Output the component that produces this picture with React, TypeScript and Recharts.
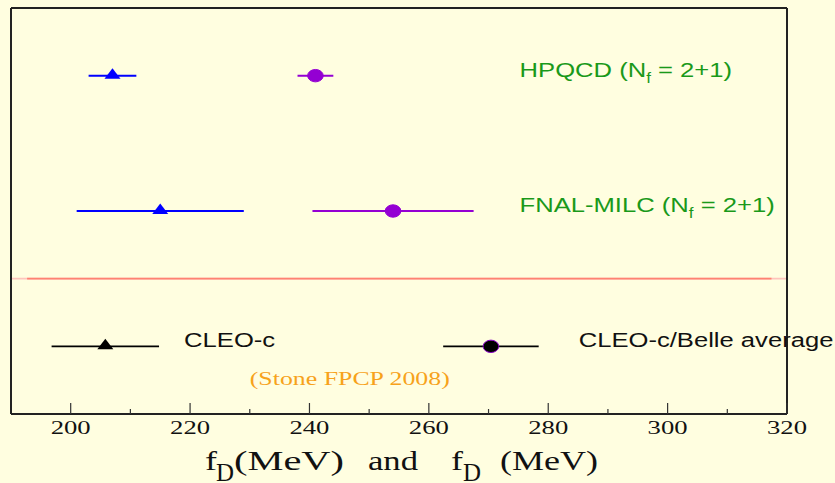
import { ComposedChart, ErrorBar, ReferenceDot, ReferenceLine, Scatter, XAxis, YAxis } from "recharts";

const xTicks = [200, 210, 220, 230, 240, 250, 260, 270, 280, 290, 300, 310, 320];

// rows: HPQCD = 5, FNAL-MILC = 3, experiment = 1
const fdLattice = [
  { x: 207, y: 5, err: 4 },
  { x: 215, y: 3, err: 14 }
];
const fdsLattice = [
  { x: 241, y: 5, err: 3 },
  { x: 254, y: 3, err: 13.5 }
];
const fdCleo = [{ x: 205.8, y: 1, err: 9 }];
const fdsAverage = [{ x: 270.4, y: 1, err: 8 }];

const dividerY = 2;
const dividerFrom = 192.7;
const dividerTo = 317.4;

const green = "#1a991a";
const rowLabels = [
  { key: "hpqcd", x: 275.2, y: 5, text: "HPQCD (N", sub: "f", rest: " = 2+1)", color: green },
  { key: "fnal", x: 275.2, y: 3, text: "FNAL-MILC (N", sub: "f", rest: " = 2+1)", color: green },
  { key: "cleo", x: 219, y: 1, text: "CLEO-c", sub: "", rest: "", color: "#111111" },
  { key: "avg", x: 285.1, y: 1, text: "CLEO-c/Belle average", sub: "", rest: "", color: "#111111" }
];
const sourceNote = { x: 230, y: 0.43, text: "(Stone FPCP 2008)" };

const frame = "#222222";

function Triangle(props: any) {
  const { cx, cy, fill } = props;
  return <polygon points={`${cx},${cy - 7.5} ${cx - 8},${cy + 3} ${cx + 8},${cy + 3}`} fill={fill} />;
}

function Dot(props: any) {
  const { cx, cy, fill, stroke } = props;
  return <ellipse cx={cx} cy={cy} rx={7.8} ry={6.2} fill={fill} stroke={stroke} strokeWidth={1} />;
}

function BottomTick(props: any) {
  const { x, y, payload } = props;
  const major = payload.value % 20 === 0;
  return (
    <g>
      <line x1={x} x2={x} y1={y} y2={y - (major ? 11 : 5)} stroke="#333" strokeWidth={1.2} />
      {major ? (
        <text
          x={x}
          y={y + 20}
          textAnchor="middle"
          fontFamily="Liberation Serif"
          fontSize={18}
          textLength={40}
          lengthAdjust="spacingAndGlyphs"
          fill="#111"
        >
          {payload.value}
        </text>
      ) : null}
    </g>
  );
}

function TopTick(props: any) {
  const { x, y, payload } = props;
  const major = payload.value % 20 === 0;
  return <line x1={x} x2={x} y1={y} y2={y + (major ? 12 : 6)} stroke="#333" strokeWidth={1.2} />;
}

function RowLabel({ viewBox, item }: any) {
  const x = viewBox?.x ?? 0;
  const y = (viewBox?.y ?? 0) + 1;
  return (
    <g transform={`translate(${x},${y}) scale(1.22,1)`}>
      <text x={0} y={0} fontFamily="Liberation Sans" fontSize={21} fill={item.color}>
        {item.text}
        {item.sub ? (
          <tspan fontSize={14} dy={6}>
            {item.sub}
          </tspan>
        ) : null}
        {item.rest ? <tspan dy={-6}>{item.rest}</tspan> : null}
      </text>
    </g>
  );
}

function NoteLabel({ viewBox }: any) {
  return (
    <text
      x={viewBox?.x ?? 0}
      y={viewBox?.y ?? 0}
      fontFamily="Liberation Serif"
      fontSize={19}
      fill="#f7a21b"
      textLength={200}
      lengthAdjust="spacingAndGlyphs"
    >
      {sourceNote.text}
    </text>
  );
}

function AxisTitle({ viewBox }: any) {
  const left = viewBox?.x ?? 0;
  const base = (viewBox?.y ?? 0) + 56;
  const serif = { fontFamily: "Liberation Serif", fill: "#111" };
  const piece = (dx: number, dy: number, size: number, len: number, s: string) => (
    <text x={left + dx} y={base + dy} fontSize={size} textLength={len} lengthAdjust="spacingAndGlyphs" {...serif}>
      {s}
    </text>
  );
  return (
    <g>
      {piece(194, 0, 28, 12, "f")}
      {piece(205, 11, 26, 18, "D")}
      {piece(223, 0, 28, 110, "(MeV)")}
      {piece(357, 0, 28, 50, "and")}
      {piece(440, 0, 28, 12, "f")}
      {piece(452, 11, 26, 18, "D")}
      {piece(471, 21, 12, 5, "s")}
      {piece(489, 0, 28, 98, "(MeV)")}
    </g>
  );
}

export default function App() {
  return (
    <div style={{ width: 835, height: 483, background: "#fffee0" }}>
      <style>{`body{margin:0;background:#fffee0}`}</style>
      <ComposedChart width={835} height={483} margin={{ top: 7, right: 47, bottom: 68, left: 10 }}>
        <XAxis
          type="number"
          dataKey="x"
          domain={[190, 320]}
          ticks={xTicks}
          interval={0}
          allowDataOverflow
          height={1}
          tickSize={0}
          tickMargin={0}
          tickLine={false}
          axisLine={{ stroke: frame, strokeWidth: 2 }}
          tick={<BottomTick />}
          label={(p: any) => <AxisTitle {...p} />}
        />
        <XAxis
          xAxisId="top"
          orientation="top"
          type="number"
          domain={[190, 320]}
          ticks={xTicks}
          interval={0}
          allowDataOverflow
          height={1}
          tickSize={0}
          tickMargin={0}
          tickLine={false}
          axisLine={{ stroke: frame, strokeWidth: 2 }}
          tick={<TopTick />}
        />
        <YAxis type="number" dataKey="y" domain={[0, 6]} width={1} tick={false} tickLine={false} axisLine={{ stroke: frame, strokeWidth: 2 }} />
        <YAxis
          yAxisId="right"
          orientation="right"
          type="number"
          domain={[0, 6]}
          width={1}
          tick={false}
          tickLine={false}
          axisLine={{ stroke: frame, strokeWidth: 2 }}
        />

        <ReferenceLine y={dividerY} stroke="#ffc4bc" strokeWidth={1.8} />
        <ReferenceLine
          segment={[
            { x: dividerFrom, y: dividerY },
            { x: dividerTo, y: dividerY }
          ]}
          stroke="#ff8272"
          strokeWidth={1.8}
        />

        <Scatter data={fdLattice} fill="#0000ff" shape={<Triangle />} isAnimationActive={false}>
          <ErrorBar dataKey="err" direction="x" width={0} stroke="#0000ff" strokeWidth={2} isAnimationActive={false} />
        </Scatter>
        <Scatter data={fdsLattice} fill="#9400d3" stroke="#9400d3" shape={<Dot />} isAnimationActive={false}>
          <ErrorBar dataKey="err" direction="x" width={0} stroke="#9400d3" strokeWidth={2} isAnimationActive={false} />
        </Scatter>
        <Scatter data={fdCleo} fill="#000000" shape={<Triangle />} isAnimationActive={false}>
          <ErrorBar dataKey="err" direction="x" width={0} stroke="#000000" strokeWidth={1.6} isAnimationActive={false} />
        </Scatter>
        <Scatter data={fdsAverage} fill="#000000" stroke="#8a00c8" shape={<Dot />} isAnimationActive={false}>
          <ErrorBar dataKey="err" direction="x" width={0} stroke="#000000" strokeWidth={1.6} isAnimationActive={false} />
        </Scatter>

        {rowLabels.map((item) => (
          <ReferenceDot
            key={item.key}
            x={item.x}
            y={item.y}
            r={0}
            fill="none"
            stroke="none"
            label={(p: any) => <RowLabel {...p} item={item} />}
          />
        ))}
        <ReferenceDot
          x={sourceNote.x}
          y={sourceNote.y}
          r={0}
          fill="none"
          stroke="none"
          label={(p: any) => <NoteLabel {...p} />}
        />
      </ComposedChart>
    </div>
  );
}
